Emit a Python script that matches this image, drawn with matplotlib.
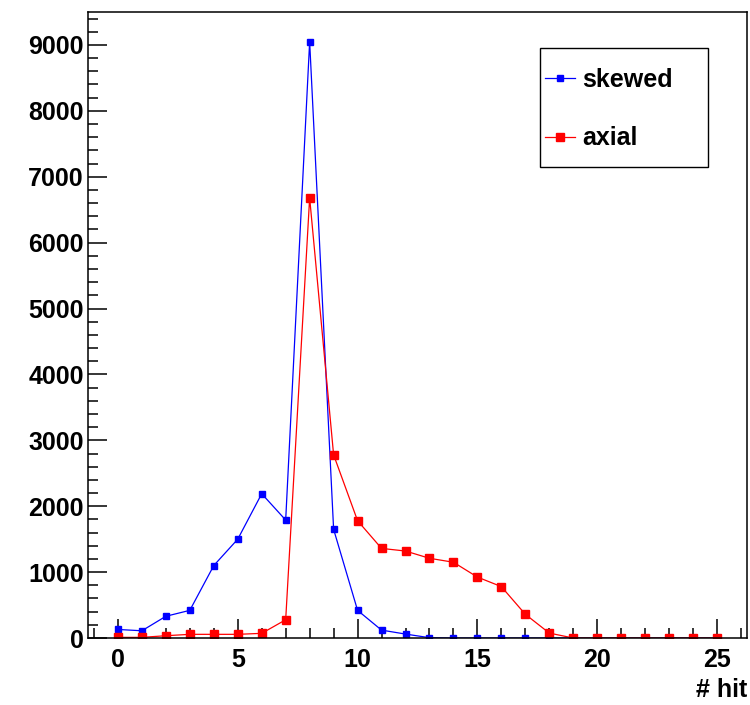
import matplotlib
matplotlib.use("Agg")
import matplotlib.pyplot as plt
from matplotlib.patches import Rectangle
from matplotlib.ticker import MultipleLocator

plt.rcParams["font.family"] = ["Liberation Sans", "DejaVu Sans"]
plt.rcParams["font.weight"] = "bold"

hits = list(range(26))

skewed = [130, 110, 330, 420, 1100, 1500, 2190, 1790, 9050, 1650,
          420, 120, 60, 5, 0, 0, 0, 0, 0, 0,
          0, 0, 0, 0, 0, 0]

axial = [10, 10, 35, 56, 56, 56, 71, 277, 6680, 2780,
         1780, 1360, 1320, 1210, 1150, 925, 780, 360, 75, 0,
         0, 0, 0, 0, 0, 0]

fig = plt.figure(figsize=(7.5, 7.05), dpi=100)
ax = fig.add_axes([0.1173, 0.095, 0.996 - 0.1173, 0.983 - 0.095])

ax.plot(hits, skewed, color="#0000ff", lw=0.9, marker="s", ms=5,
        mec="#0000ff", label="skewed")
ax.plot(hits, axial, color="#ff0000", lw=0.9, marker="s", ms=6,
        mec="#ff0000", label="axial")

ax.set_xlim(-1.25, 26.25)
ax.set_ylim(0, 9500)

ax.xaxis.set_major_locator(MultipleLocator(5))
ax.xaxis.set_minor_locator(MultipleLocator(1))
ax.yaxis.set_major_locator(MultipleLocator(1000))
ax.yaxis.set_minor_locator(MultipleLocator(200))

ax.tick_params(which="both", direction="in", top=False, right=False,
               labelsize=18, width=1.1)
ax.tick_params(which="major", length=14)
ax.tick_params(which="minor", length=7.5)
ax.tick_params(axis="y", pad=3)
ax.tick_params(axis="x", pad=7)
for lab in ax.get_xticklabels() + ax.get_yticklabels():
    lab.set_fontweight("bold")

for sp in ax.spines.values():
    sp.set_linewidth(1.1)

# legend box drawn by hand, entries placed inside it
ax.add_patch(Rectangle((0.686, 0.7524), 0.255, 0.190, transform=ax.transAxes,
                       facecolor="white", edgecolor="black", lw=1.0, zorder=4))
leg = ax.legend(loc="center left", bbox_to_anchor=(0.6935, 0.845),
                fontsize=18, numpoints=1, handlelength=1.2,
                handletextpad=0.3, labelspacing=1.38, borderpad=0,
                borderaxespad=0, frameon=False)
leg.set_zorder(5)
for t in leg.get_texts():
    t.set_fontweight("bold")

fig.text(0.997, 0.021, "# hit", ha="right", va="center", fontsize=18,
         fontweight="bold")

fig.savefig("out.png", dpi=100)
